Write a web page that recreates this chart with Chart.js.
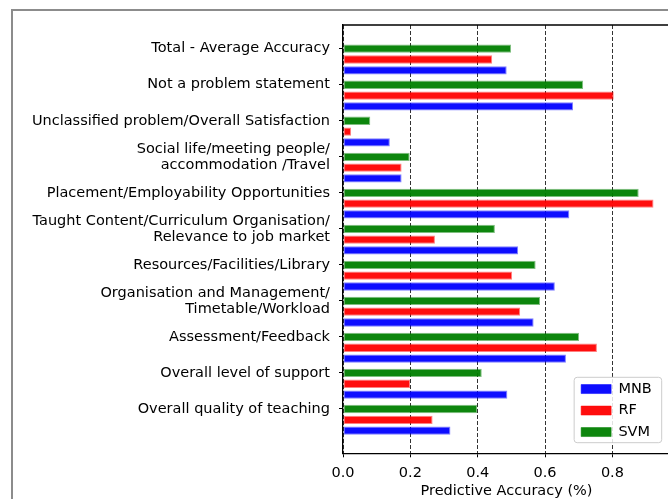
<!DOCTYPE html>
<html>
<head>
<meta charset="utf-8">
<script src="https://cdn.jsdelivr.net/npm/chart.js@4.4.1/dist/chart.umd.min.js"></script>
<style>
  html, body { margin: 0; padding: 0; background: #fff; overflow: hidden; width: 668px; height: 499px; }
  #frame { position: absolute; left: 11px; top: 9px; width: 720px; height: 560px; border-left: 2px solid #8c8c8c; border-top: 2px solid #8c8c8c; }
  #wrap { position: absolute; left: 0; top: 0; width: 690px; height: 510px; }
</style>
</head>
<body>
<div id="frame"></div>
<div id="wrap"><canvas id="accChart" width="690" height="510"></canvas></div>
<script>
// categories, top to bottom
var categories = [
    "Total - Average Accuracy",
    "Not a problem statement",
    "Unclassified problem/Overall Satisfaction",
    ["Social life/meeting people/", "accommodation /Travel"],
    "Placement/Employability Opportunities",
    ["Taught Content/Curriculum Organisation/", "Relevance to job market"],
    "Resources/Facilities/Library",
    ["Organisation and Management/", "Timetable/Workload"],
    "Assessment/Feedback",
    "Overall level of support",
    "Overall quality of teaching"
];
var mnb = [0.486, 0.683, 0.139, 0.174, 0.672, 0.520, 0.629, 0.566, 0.662, 0.488, 0.319];
var rf  = [0.443, 0.804, 0.024, 0.174, 0.922, 0.273, 0.502, 0.526, 0.754, 0.199, 0.266];
var svm = [0.499, 0.713, 0.081, 0.198, 0.878, 0.451, 0.572, 0.585, 0.701, 0.412, 0.399];
var xTicks = [0, 0.2, 0.4, 0.6, 0.8];

// two empty slots above each group so the tick sits on the SVM bar
var spacer = categories.map(function(){ return null; });

Chart.defaults.font.family = "'DejaVu Sans', sans-serif";
Chart.defaults.font.size = 14.5;
Chart.defaults.color = '#000';

var FONT = 14.5, LPAD = 7;
var PITCH = FONT + LPAD;

var legendPlace = {
    id: 'legendPlace',
    afterLayout: function(chart){
        var lg = chart.legend, ca = chart.chartArea;
        var itemsTop = ca.bottom - 7 - 3 * PITCH;
        lg.left = ca.right - 8.3 - lg.width;
        lg.right = lg.left + lg.width;
        lg.top = itemsTop - LPAD;
        lg.bottom = ca.bottom;
        var fy = itemsTop - 4.5;
        lg._frame = { x: lg.left, y: fy, w: lg.width, h: (ca.bottom - 10.6) - fy };
        if (!lg._wrapped) {
            var orig = lg.draw;
            lg.draw = function(){
                var f = this._frame, ctx = this.ctx;
                ctx.save();
                ctx.beginPath();
                ctx.roundRect(f.x, f.y, f.w, f.h, 3);
                ctx.fillStyle = 'rgba(255,255,255,0.85)';
                ctx.fill();
                ctx.lineWidth = 1;
                ctx.strokeStyle = '#cccccc';
                ctx.stroke();
                ctx.restore();
                orig.apply(this, arguments);
            };
            lg._wrapped = true;
        }
    }
};

var spines = {
    id: 'spines',
    beforeDatasetsDraw: function(chart){
        var ca = chart.chartArea, ctx = chart.ctx;
        ctx.save();
        ctx.strokeStyle = '#000';
        ctx.lineWidth = 1.3;
        ctx.beginPath();
        ctx.moveTo(ca.left, ca.top);
        ctx.lineTo(ca.right, ca.top);
        ctx.lineTo(ca.right, ca.bottom);
        ctx.stroke();
        ctx.restore();
    }
};

function barSet(label, data, r, g, b){
    return {
        label: label,
        data: data,
        backgroundColor: 'rgba(' + r + ',' + g + ',' + b + ',0.95)',
        borderColor: 'rgba(' + r + ',' + g + ',' + b + ',0.5)',
        borderWidth: 1,
        borderSkipped: false
    };
}

var ctx = document.getElementById('accChart');
var accChart = new Chart(ctx, {
    type: 'bar',
    data: {
        labels: categories.map(function(c, i){ return i; }),
        datasets: [
            { label: '', data: spacer },
            { label: '', data: spacer },
            barSet('SVM', svm, 0, 128, 0),
            barSet('RF', rf, 255, 0, 0),
            barSet('MNB', mnb, 0, 0, 255)
        ]
    },
    options: {
        indexAxis: 'y',
        responsive: false,
        animation: false,
        categoryPercentage: 1.5,
        barPercentage: 0.77,
        layout: { padding: { top: 25, right: 20, bottom: 0, left: 0 } },
        plugins: {
            tooltip: { enabled: false },
            legend: {
                position: 'chartArea',
                align: 'start',
                labels: {
                    boxWidth: 30,
                    boxHeight: 9,
                    padding: LPAD,
                    color: '#000',
                    font: { size: FONT },
                    filter: function(item){ return item.text !== ''; },
                    sort: function(a, b){ return b.datasetIndex - a.datasetIndex; }
                }
            }
        },
        scales: {
            x: {
                type: 'linear',
                min: 0,
                max: 0.971,
                afterFit: function(s){ s.height = 510 - 453.3; },
                afterBuildTicks: function(s){ s.ticks = xTicks.map(function(v){ return { value: v }; }); },
                ticks: {
                    color: '#000',
                    padding: 7,
                    font: { size: FONT },
                    callback: function(v){ return v.toFixed(1); }
                },
                grid: {
                    color: '#333',
                    lineWidth: 1,
                    drawTicks: true,
                    tickLength: 4,
                    tickColor: '#000',
                    tickBorderDash: []
                },
                border: { display: true, color: '#000', width: 1.3, dash: [4, 2] },
                title: {
                    display: true,
                    text: 'Predictive Accuracy (%)',
                    color: '#000',
                    font: { size: FONT },
                    padding: { top: 4, bottom: 10 }
                }
            },
            y: {
                type: 'linear',
                reverse: true,
                offset: false,
                min: -0.658,
                max: 11.23,
                afterFit: function(s){ s.width = 343; },
                afterBuildTicks: function(s){ s.ticks = categories.map(function(c, i){ return { value: i }; }); },
                ticks: {
                    color: '#000',
                    padding: 9,
                    autoSkip: false,
                    font: { size: FONT, lineHeight: 1.1 },
                    callback: function(v){ return categories[v]; }
                },
                grid: { offset: false, drawOnChartArea: false, drawTicks: true, tickLength: 4, color: '#000' },
                border: { display: true, color: '#000', width: 1.3 }
            }
        }
    },
    plugins: [legendPlace, spines]
});
</script>
</body>
</html>
